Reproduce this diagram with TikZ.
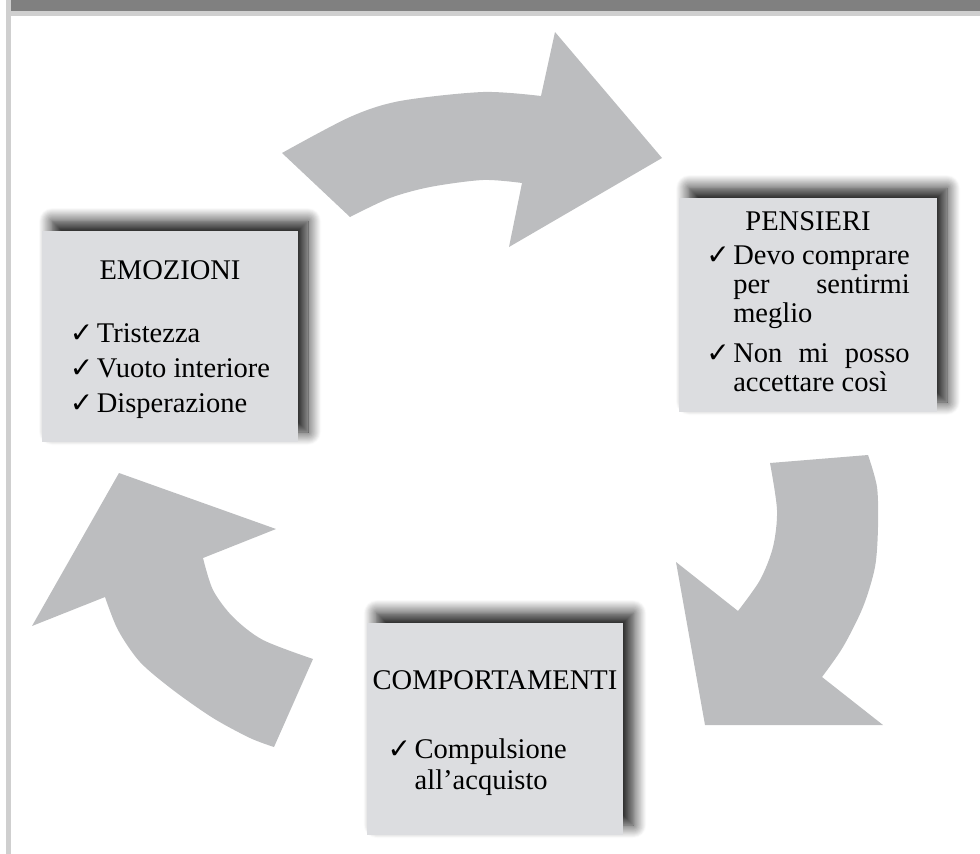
\documentclass[tikz,border=0pt]{standalone}
\usepackage{fontspec}
\usepackage{array}
\usetikzlibrary{shadows.blur}
\setmainfont{Liberation Serif}
\newfontfamily\dejavu{DejaVu Sans}
\definecolor{fascia}{RGB}{128,128,128}
\definecolor{cornice}{RGB}{207,207,207}
\definecolor{freccia}{RGB}{188,189,191}
\definecolor{riquadro}{RGB}{220,221,224}
\newlength{\riga}
\newcommand{\spunta}{\makebox[27pt][l]{\dejavu\fontsize{28}{28}\selectfont ✓}}
\begin{document}
\begin{tikzpicture}[x=1pt,y=-1pt,line join=round]
	\tikzset{box/.style={fill=riquadro,inner sep=0pt,align=center,
			blur shadow={shadow xshift=10pt,shadow yshift=10pt,shadow blur radius=13pt,
				shadow blur steps=14,shadow opacity=92}},
		frecciona/.style={fill=freccia}}
	\useasboundingbox (0,0) rectangle (980,854);
	\fill[fascia] (11,0) rectangle (980,11);
	\fill[cornice] (11,11) rectangle (980,16);
	\fill[cornice] (6,0) rectangle (11,854);
	\fill[frecciona] plot[smooth] coordinates {(282,153) (350,117) (400,101) (483,92) (541,96)}
		-- (555,32) -- (662,158) -- (509,247) -- (522,183)
		-- plot[smooth] coordinates {(522,183) (483,180) (430,187) (390,198) (350,217)} -- cycle;
	\fill[frecciona] plot[smooth] coordinates {(868,455) (877,487) (878,527) (875,567) (863,607) (843,647) (822,677)}
		-- (883,725) -- (705,725) -- (676,562) -- (738,611)
		-- plot[smooth] coordinates {(738,611) (760,580) (773,547) (777,510) (770,463)} -- cycle;
	\fill[frecciona] plot[smooth] coordinates {(274,747) (250,738) (213,718) (173,690) (140,662) (118,630) (105,597)}
		-- (32,626) -- (119,473) -- (276,529) -- (203,558)
		-- plot[smooth] coordinates {(203,558) (213,590) (233,617) (263,640) (313,659)} -- cycle;
	\node[box,minimum width=256pt,minimum height=211pt] (emozioni) at (170,336.5) {\fontsize{28.5}{30}\selectfont
		\begin{tabular}{@{}l@{}l@{}}
			\multicolumn{2}{c}{\rule{0pt}{27pt}EMOZIONI}\\[33pt]
			\spunta & Tristezza\\[5pt]
			\spunta & Vuoto interiore\\[5pt]
			\spunta & Disperazione
	\end{tabular}};
	\node[box,minimum width=258pt,minimum height=214pt] (pensieri) at (808,305) {\fontsize{28.5}{29}\selectfont
		\settowidth{\riga}{Devo comprare}%
		\begin{tabular}{@{}l@{}l@{}}
			\multicolumn{2}{c}{PENSIERI}\\[5pt]
			\spunta & Devo comprare\\
			& \makebox[\riga][s]{per sentirmi}\\
			& meglio\\[11pt]
			\spunta & \makebox[\riga][s]{Non mi posso}\\
			& accettare così
	\end{tabular}};
	\node[box,minimum width=250pt,minimum height=212pt] (comportamenti) at (495,729) {\fontsize{28.5}{31}\selectfont
		\begin{tabular}{@{}l@{}l@{}}
			\multicolumn{2}{c}{\rule{0pt}{29.3pt}COMPORTAMENTI}\\[38pt]
			\hspace{21pt}\spunta & Compulsione\\
			& all’acquisto
	\end{tabular}};
\end{tikzpicture}
\end{document}
